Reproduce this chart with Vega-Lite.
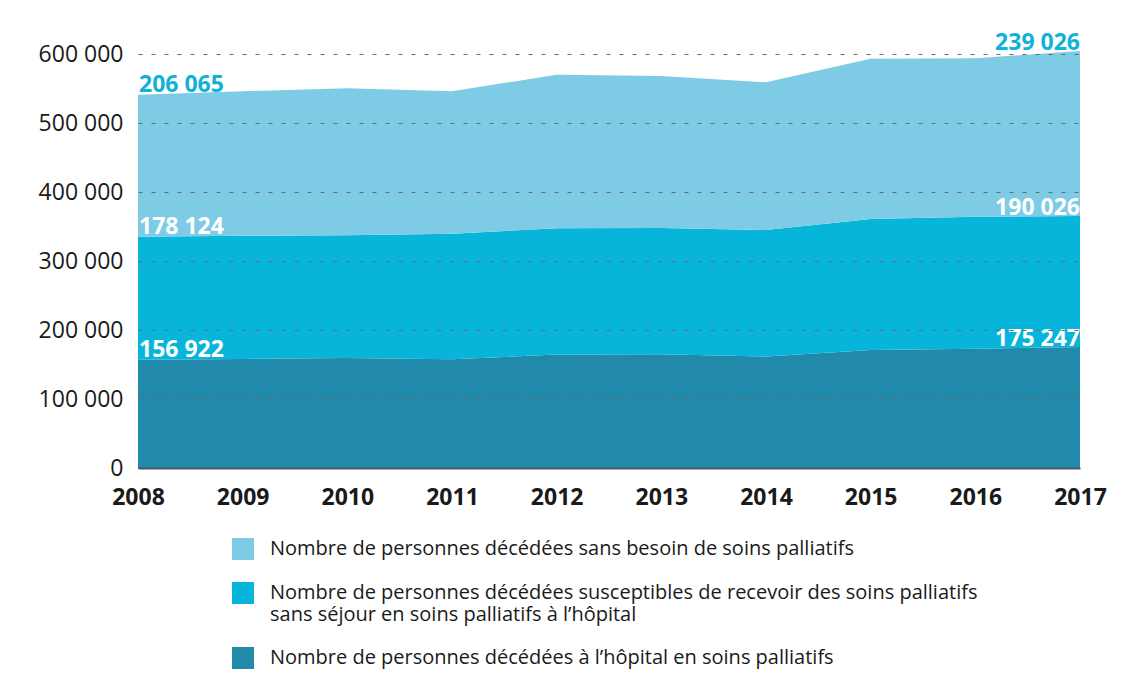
{
  "$schema": "https://vega.github.io/schema/vega-lite/v6.json",
  "autosize": {"type": "none"},
  "padding": {"left": 138, "top": 54, "right": 48, "bottom": 223},
  "width": 942,
  "height": 414,
  "background": "white",
  "config": {
    "view": {"stroke": null},
    "font": "Open Sans",
    "locale": {"number": {"decimal": ",", "thousands": " ", "grouping": [3], "currency": ["", " €"]}}
  },
  "data": {
    "values": [
      {"year": 2008, "series": "Nombre de personnes décédées à l’hôpital en soins palliatifs", "value": 156922},
      {"year": 2009, "series": "Nombre de personnes décédées à l’hôpital en soins palliatifs", "value": 158000},
      {"year": 2010, "series": "Nombre de personnes décédées à l’hôpital en soins palliatifs", "value": 159500},
      {"year": 2011, "series": "Nombre de personnes décédées à l’hôpital en soins palliatifs", "value": 157500},
      {"year": 2012, "series": "Nombre de personnes décédées à l’hôpital en soins palliatifs", "value": 164500},
      {"year": 2013, "series": "Nombre de personnes décédées à l’hôpital en soins palliatifs", "value": 165000},
      {"year": 2014, "series": "Nombre de personnes décédées à l’hôpital en soins palliatifs", "value": 161500},
      {"year": 2015, "series": "Nombre de personnes décédées à l’hôpital en soins palliatifs", "value": 171000},
      {"year": 2016, "series": "Nombre de personnes décédées à l’hôpital en soins palliatifs", "value": 173000},
      {"year": 2017, "series": "Nombre de personnes décédées à l’hôpital en soins palliatifs", "value": 175247},
      {"year": 2008, "series": "Nombre de personnes décédées susceptibles de recevoir des soins palliatifs|sans séjour en soins palliatifs à l’hôpital", "value": 178124},
      {"year": 2009, "series": "Nombre de personnes décédées susceptibles de recevoir des soins palliatifs|sans séjour en soins palliatifs à l’hôpital", "value": 178500},
      {"year": 2010, "series": "Nombre de personnes décédées susceptibles de recevoir des soins palliatifs|sans séjour en soins palliatifs à l’hôpital", "value": 178000},
      {"year": 2011, "series": "Nombre de personnes décédées susceptibles de recevoir des soins palliatifs|sans séjour en soins palliatifs à l’hôpital", "value": 182000},
      {"year": 2012, "series": "Nombre de personnes décédées susceptibles de recevoir des soins palliatifs|sans séjour en soins palliatifs à l’hôpital", "value": 183000},
      {"year": 2013, "series": "Nombre de personnes décédées susceptibles de recevoir des soins palliatifs|sans séjour en soins palliatifs à l’hôpital", "value": 183000},
      {"year": 2014, "series": "Nombre de personnes décédées susceptibles de recevoir des soins palliatifs|sans séjour en soins palliatifs à l’hôpital", "value": 183500},
      {"year": 2015, "series": "Nombre de personnes décédées susceptibles de recevoir des soins palliatifs|sans séjour en soins palliatifs à l’hôpital", "value": 190000},
      {"year": 2016, "series": "Nombre de personnes décédées susceptibles de recevoir des soins palliatifs|sans séjour en soins palliatifs à l’hôpital", "value": 191000},
      {"year": 2017, "series": "Nombre de personnes décédées susceptibles de recevoir des soins palliatifs|sans séjour en soins palliatifs à l’hôpital", "value": 190026},
      {"year": 2008, "series": "Nombre de personnes décédées sans besoin de soins palliatifs", "value": 206065},
      {"year": 2009, "series": "Nombre de personnes décédées sans besoin de soins palliatifs", "value": 209500},
      {"year": 2010, "series": "Nombre de personnes décédées sans besoin de soins palliatifs", "value": 213000},
      {"year": 2011, "series": "Nombre de personnes décédées sans besoin de soins palliatifs", "value": 206500},
      {"year": 2012, "series": "Nombre de personnes décédées sans besoin de soins palliatifs", "value": 222500},
      {"year": 2013, "series": "Nombre de personnes décédées sans besoin de soins palliatifs", "value": 220000},
      {"year": 2014, "series": "Nombre de personnes décédées sans besoin de soins palliatifs", "value": 214000},
      {"year": 2015, "series": "Nombre de personnes décédées sans besoin de soins palliatifs", "value": 232000},
      {"year": 2016, "series": "Nombre de personnes décédées sans besoin de soins palliatifs", "value": 230000},
      {"year": 2017, "series": "Nombre de personnes décédées sans besoin de soins palliatifs", "value": 239026}
    ]
  },
  "layer": [
    {
      "mark": {"type": "area", "opacity": 1},
      "encoding": {
        "x": {
          "field": "year", "type": "quantitative",
          "scale": {"domain": [2008, 2017], "nice": false, "zero": false},
          "axis": {
            "title": null, "format": "d", "values": [2008, 2009, 2010, 2011, 2012, 2013, 2014, 2015, 2016, 2017],
            "ticks": false, "grid": false, "labelFlush": false,
            "labelFontSize": 23, "labelFontWeight": "bold", "labelColor": "#1a1a1a", "labelPadding": 18,
            "domainColor": "#4b5563", "domainWidth": 2, "zindex": 1
          }
        },
        "y": {
          "field": "value", "type": "quantitative", "stack": "zero",
          "scale": {"domain": [0, 600000], "nice": false},
          "axis": {
            "title": null, "format": ",d", "values": [0, 100000, 200000, 300000, 400000, 500000, 600000],
            "ticks": false, "domain": false, "labelFontSize": 23, "labelColor": "#1a1a1a", "labelPadding": 15,
            "gridColor": "#6b6b6b", "gridDash": [4, 9], "gridWidth": 1.2, "zindex": 1
          }
        },
        "color": {
          "field": "series", "type": "nominal",
          "scale": {
            "domain": [
              "Nombre de personnes décédées sans besoin de soins palliatifs",
              "Nombre de personnes décédées susceptibles de recevoir des soins palliatifs|sans séjour en soins palliatifs à l’hôpital",
              "Nombre de personnes décédées à l’hôpital en soins palliatifs"
            ],
            "range": ["#7ecbe5", "#07b4da", "#218aab"]
          },
          "legend": {
            "title": null, "orient": "none", "legendX": 94, "legendY": 484,
            "symbolType": "square", "symbolSize": 484, "symbolStrokeWidth": 0,
            "labelFontSize": 20, "labelColor": "#1a1a1a", "labelOffset": 16, "labelLimit": 0,
            "rowPadding": 22, "labelExpr": "split(datum.label, '|')"
          }
        },
        "order": {"field": "series", "sort": "descending"}
      }
    },
    {
      "transform": [
        {"stack": "value", "groupby": ["year"], "sort": [{"field": "series", "order": "descending"}], "as": ["v0", "v1"]},
        {"filter": "datum.year == 2008"}
      ],
      "mark": {"type": "text", "align": "left", "baseline": "alphabetic", "dy": -3, "dx": 1, "fontSize": 23, "fontWeight": "bold"},
      "encoding": {
        "x": {"field": "year", "type": "quantitative"},
        "y": {"field": "v1", "type": "quantitative"},
        "text": {"field": "value", "type": "quantitative", "format": ",d"},
        "color": {"condition": {"test": "indexof(datum.series, 'sans besoin') >= 0", "value": "#10b1d9"}, "value": "white"}
      }
    },
    {
      "transform": [
        {"stack": "value", "groupby": ["year"], "sort": [{"field": "series", "order": "descending"}], "as": ["v0", "v1"]},
        {"filter": "datum.year == 2017"}
      ],
      "mark": {"type": "text", "align": "right", "baseline": "alphabetic", "dy": -1, "dx": 0, "fontSize": 23, "fontWeight": "bold"},
      "encoding": {
        "x": {"field": "year", "type": "quantitative"},
        "y": {"field": "v1", "type": "quantitative"},
        "text": {"field": "value", "type": "quantitative", "format": ",d"},
        "color": {"condition": {"test": "indexof(datum.series, 'sans besoin') >= 0", "value": "#10b1d9"}, "value": "white"}
      }
    }
  ]
}
